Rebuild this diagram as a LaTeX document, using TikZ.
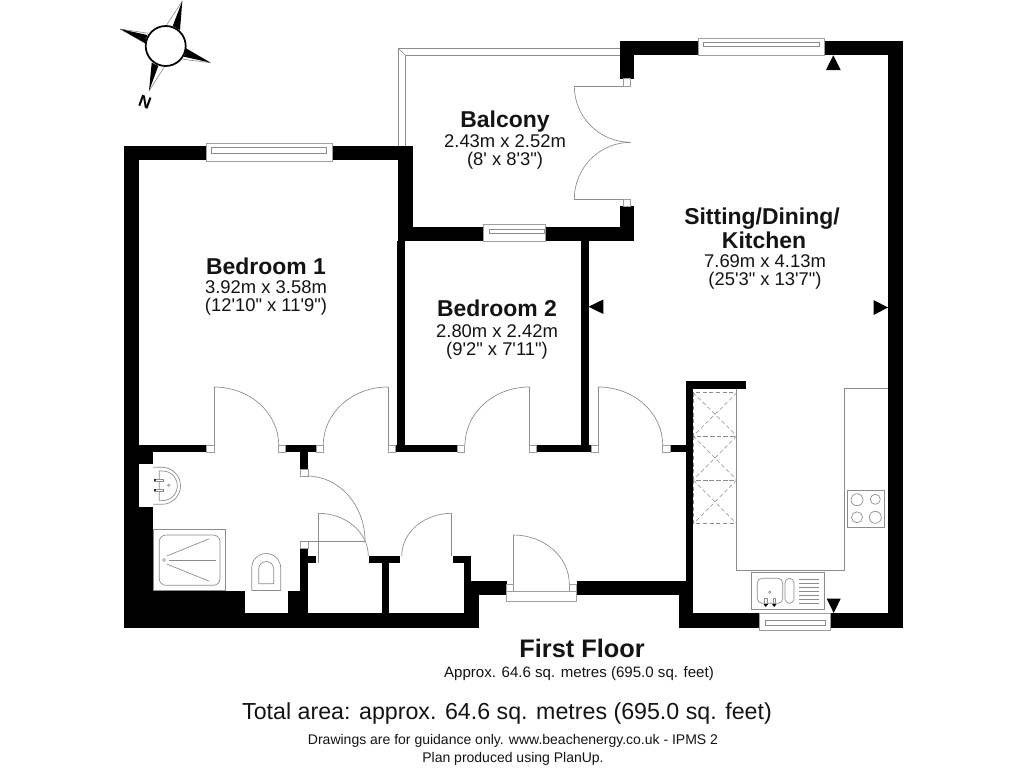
\documentclass[tikz,border=0pt]{standalone}
\usepackage{fontspec}
\newfontfamily\lab{Liberation Sans}
\newcommand{\qarc}[4]{(#1,#2) .. controls ({#1+.5523*(#3-#1)},#2) and (#3,{#4-.5523*(#4-#2)}) .. (#3,#4)}
\tikzset{
  x=0.75pt,y=-0.75pt,
  wall/.style={fill=black},
  thin line/.style={draw=black!45,line width=0.5pt},
  fine/.style={draw=black!45,line width=0.45pt},
  hole/.style={fill=white,draw=black!38,line width=0.55pt},
  dashline/.style={draw=black!45,line width=0.4pt,densely dashed},
  mark tri/.style={fill=black},
  spike/.style={fill=black},
  base/.style={inner sep=0pt,anchor=base,text=black!92},
  head/.style={base,font=\lab\bfseries\fontsize{17.2}{20}\selectfont},
  dims/.style={base,font=\lab\fontsize{13.8}{16}\selectfont},
  ftitle/.style={base,font=\lab\bfseries\fontsize{19}{22}\selectfont},
  small/.style={base,font=\lab\fontsize{11.3}{13}\selectfont},
  total/.style={base,font=\lab\fontsize{17.4}{20}\selectfont},
  foot/.style={base,font=\lab\fontsize{10.5}{12}\selectfont},
}
\begin{document}
\begin{tikzpicture}
\useasboundingbox (0,0) rectangle (1024,768);
\fill[white] (0,0) rectangle (1024,768);

% balcony outline
\draw[thin line] (398.3,146) -- (398.3,48.3) -- (620,48.3);
\draw[thin line] (405.3,146) -- (405.3,55.3) -- (620,55.3);
\draw[thin line] (398.3,48.3) -- (405.3,55.3);

% walls: bedroom 1 outer and left side
\fill[wall] (123.5,146) rectangle (206,160);
\fill[wall] (332,146) rectangle (412.7,160);
\fill[wall] (123.5,146) rectangle (138.7,628);
\fill[wall] (138.7,445) rectangle (206.7,452);
\fill[wall] (138.7,452) rectangle (153.3,591);
\fill[wall] (123.5,590.7) rectangle (300,628);
\fill[wall] (285.3,445) rectangle (316.7,452);
\fill[wall] (300,452) rectangle (308,469);
\fill[wall] (300,548) rectangle (307.5,628);
\fill[wall] (307,556) rectangle (316,563);
\fill[wall] (300,613.3) rectangle (478.7,628);
\fill[wall] (382,556) rectangle (389.3,613.3);
\fill[wall] (369.3,556) rectangle (400,563);
\fill[wall] (453.3,556) rectangle (471.3,563);
\fill[wall] (464,563) rectangle (471.3,595);
\fill[wall] (464,580.7) rectangle (506.7,595);
\fill[wall] (464,595) rectangle (478.7,628);
% niches
\fill[white] (138.7,464.3) rectangle (153.3,506.7);
\fill[white] (245,590.7) rectangle (288.3,613.3);
% inner walls
\fill[wall] (398.3,146) rectangle (412.7,241);
\fill[wall] (398.3,226.7) rectangle (483.3,241);
\fill[wall] (545.3,226.7) rectangle (634.3,241);
\fill[wall] (397.3,241) rectangle (405.3,452);
\fill[wall] (395.7,445) rectangle (457.3,452);
\fill[wall] (581,241) rectangle (588.5,452);
\fill[wall] (536.7,444.7) rectangle (591.3,452);
\fill[wall] (670,445) rectangle (686,452);
% sitting room walls
\fill[wall] (620,41) rectangle (698.3,55.3);
\fill[wall] (824.7,41) rectangle (902.7,55.3);
\fill[wall] (620,41) rectangle (634.3,78.7);
\fill[wall] (620,206.3) rectangle (634.3,241);
\fill[wall] (888,41) rectangle (902.7,627.7);
\fill[wall] (685.7,381) rectangle (746,389);
\fill[wall] (685.7,381) rectangle (693.3,627.7);
\fill[wall] (576.7,580.7) rectangle (693.3,595);
\fill[wall] (678.7,595) rectangle (693.3,627.7);
\fill[wall] (678.7,613.3) rectangle (759.3,627.7);
\fill[wall] (830,613.3) rectangle (902.7,627.7);

% door jambs
\draw[hole] (206.7,445) rectangle (214,452);
\draw[hole] (278.7,445) rectangle (285.3,452);
\draw[hole] (316.7,445) rectangle (323.3,452);
\draw[hole] (388,445) rectangle (395.7,452);
\draw[hole] (457.3,445) rectangle (464,452);
\draw[hole] (529.3,445) rectangle (536.7,452);
\draw[hole] (591.3,445) rectangle (598.3,452);
\draw[hole] (662.7,445) rectangle (670,452);
\draw[hole] (300,469) rectangle (308,476);
\draw[hole] (300,541) rectangle (308,548);
\draw[hole] (623.3,78.7) rectangle (630.7,86);
\draw[hole] (623.3,199) rectangle (630.7,206.3);
\draw[hole] (506.7,584) rectangle (513.3,591.7);
\draw[hole] (569.3,584) rectangle (576.7,591.7);

% door leaves and swings
\draw[thin line] (214,445) -- (214,387);
\draw[thin line] \qarc{214}{387}{278.7}{445};
\draw[thin line] (388,445) -- (388,387);
\draw[thin line] \qarc{388}{387}{323.3}{445};
\draw[thin line] (529.3,445) -- (529.3,387);
\draw[thin line] \qarc{529.3}{387}{465}{445};
\draw[thin line] (598.3,445) -- (598.3,387);
\draw[thin line] \qarc{598.3}{387}{662.7}{445};
\draw[thin line] \qarc{307}{476}{365}{541};
\draw[thin line] (300,541) -- (365,541);
\draw[thin line] (318.3,563) -- (318.3,513.3);
\draw[thin line] \qarc{318.3}{513.3}{368.3}{556};
\draw[thin line] (451.7,556) -- (451.7,513.3);
\draw[thin line] \qarc{451.7}{513.3}{401.7}{556};
\draw[thin line] (513.3,584) -- (513.3,535);
\draw[thin line] \qarc{513.3}{535}{569.3}{584};
\draw[thin line] (623.3,86) -- (574.3,86);
\draw[thin line] \qarc{630.7}{142.3}{574.3}{86};
\draw[thin line] (623.3,199) -- (574.3,199);
\draw[thin line] \qarc{630.7}{142.3}{574.3}{199};

% windows
\draw[hole] (206,143.3) rectangle (332,161);
\draw[fine] (211.7,147.7) rectangle (326.7,153);
\draw[hole] (698.3,38.3) rectangle (824.7,55.3);
\draw[fine] (703.3,42.7) rectangle (819,46.7);
\draw[hole] (483.3,224.3) rectangle (545.3,241);
\draw[fine] (489.3,229.3) rectangle (544,233.3);
\draw[hole] (759.3,613.3) rectangle (830,630);
\draw[fine] (765,620.7) rectangle (825,625.7);
\draw[hole] (506.7,591.7) rectangle (576.7,601.3);

% kitchen
\draw[thin line] (736.7,389) -- (736.7,570.3) -- (844.3,570.3) -- (844.3,388.3) -- (888,388.3);
\foreach \ya/\yb in {392.7/436,436/480,480/523.7}{
  \draw[dashline] (693.3,\ya) rectangle (736.7,\yb);
  \draw[dashline] (693.3,\ya) -- (736.7,\yb);
  \draw[dashline] (736.7,\ya) -- (693.3,\yb);
}
\draw[thin line] (847.7,490.3) rectangle (884.7,527);
\draw[thin line] (857,499.7) circle (6);
\draw[thin line] (875.3,499.3) circle (5);
\draw[thin line] (857,517.3) circle (5.5);
\draw[thin line] (875.3,517.3) circle (6);
\draw[thin line] (751.7,572.3) rectangle (824.7,609.3);
\draw[thin line,rounded corners=3.5pt] (757.3,578.3) rectangle (782.7,603.3);
\draw[thin line,rounded corners=3.3pt] (785,578.3) rectangle (794,603.3);
\foreach \yy in {579,583,587,591,595,599,603}{\draw[fine] (799.3,\yy) -- (819,\yy);}
\draw[fine] (769.7,592.3) circle (1.2);
\draw[fine] (764.5,598.3) rectangle (767,604);
\draw[fine] (773,598.3) rectangle (775.5,604);
\fill (763.5,604) -- (768,604) -- (765.7,607) -- cycle;
\fill (772,604) -- (776.5,604) -- (774.2,607) -- cycle;

% marker triangles
\fill[mark tri] (826,70) -- (840.7,70) -- (833.3,55.3) -- cycle;
\fill[mark tri] (826.7,598.7) -- (840.7,598.7) -- (833.7,613) -- cycle;
\fill[mark tri] (603.3,299.5) -- (603.3,314) -- (588.5,306.7) -- cycle;
\fill[mark tri] (873.5,300) -- (873.5,315) -- (888,307.5) -- cycle;

% bathroom: basin
\draw[thin line] (153.3,467.3) -- (162,467.3) arc[start angle=-90,end angle=90,radius=18.5] -- (153.3,504.3);
\draw[thin line] (159.3,500.7) -- (159.3,471) -- (162.5,471) arc[start angle=-90,end angle=90,radius=14.8] -- (159.3,500.7);
\draw[fine,fill=white] (154,479) rectangle (163.3,481);
\draw[fine,fill=white] (154,489) rectangle (163.3,491);
\fill (155,480) circle (1.2);
\fill (155,490) circle (1.2);
\draw[fine] (168.7,485.3) circle (1.2);
% shower
\draw[thin line] (153.3,529) rectangle (225.7,590.7);
\draw[thin line,rounded corners=5pt] (159.3,535) rectangle (220,585.3);
\draw[fine] (164,560) circle (1.5);
\draw[thin line] (166.7,556) -- (209.3,538.7);
\draw[thin line] (169.3,560) -- (216,560);
\draw[thin line] (166.7,564) -- (209.3,581.3);
% toilet
\draw[thin line] (251.7,590.7) -- (251.7,568) arc[start angle=180,end angle=360,radius=14.5] -- (280.7,590.7);
\draw[thin line] (251.7,590.7) -- (280.7,590.7);
\draw[thin line] (258.7,583.7) -- (258.7,569) arc[start angle=180,end angle=360,radius=7.5] -- (273.7,583.7) -- cycle;

% compass
\draw[fine] (182.3,1) -- (166.7,25);
\fill[spike] (182.3,1) -- (180,30) -- (172.7,26) -- cycle;
\draw[fine] (120,29) -- (148.3,33.3);
\fill[spike] (120,29) -- (145,43.3) -- (147.3,35) -- cycle;
\draw[fine] (210.7,62.7) -- (182.7,59.3);
\fill[spike] (210.7,62.7) -- (186,48.3) -- (184,56.7) -- cycle;
\draw[fine] (149,91) -- (165,66);
\fill[spike] (149,91) -- (151.7,62.7) -- (158.3,66) -- cycle;
\draw[fill=white,line width=1.3pt] (165.7,46) circle (20);
\node[inner sep=0pt,rotate=-20,font=\lab\bfseries\fontsize{12.5}{13}\selectfont] (north) at (145,101.7) {N};

% labels
\node[head] (balconyname) at (505,127.7) {Balcony};
\node[dims] (balconym) at (505,147.7) {2.43m x 2.52m};
\node[dims] (balconyi) at (505,165.3) {(8' x 8'3")};
\node[head] (bed1name) at (266,274.5) {Bedroom 1};
\node[dims] (bed1m) at (266,293) {3.92m x 3.58m};
\node[dims] (bed1i) at (266,311) {(12'10" x 11'9")};
\node[head] (bed2name) at (497,316) {Bedroom 2};
\node[dims] (bed2m) at (497,337) {2.80m x 2.42m};
\node[dims] (bed2i) at (497,355) {(9'2" x 7'11")};
\node[head] (sitname) at (762,224) {Sitting/Dining/};
\node[head] (kitname) at (764,248) {Kitchen};
\node[dims] (sitm) at (765,267) {7.69m x 4.13m};
\node[dims] (siti) at (765,285) {(25'3" x 13'7")};
\node[ftitle] (floor) at (582,657) {First Floor};
\node[small] (approx) at (579,677) {Approx. 64.6 sq. metres (695.0 sq. feet)};
\node[total] (totalarea) at (507,719) {Total area: approx. 64.6 sq. metres (695.0 sq. feet)};
\node[foot] (foot1) at (513,744.5) {Drawings are for guidance only. www.beachenergy.co.uk - IPMS 2};
\node[foot] (foot2) at (513,762) {Plan produced using PlanUp.};
\end{tikzpicture}
\end{document}
